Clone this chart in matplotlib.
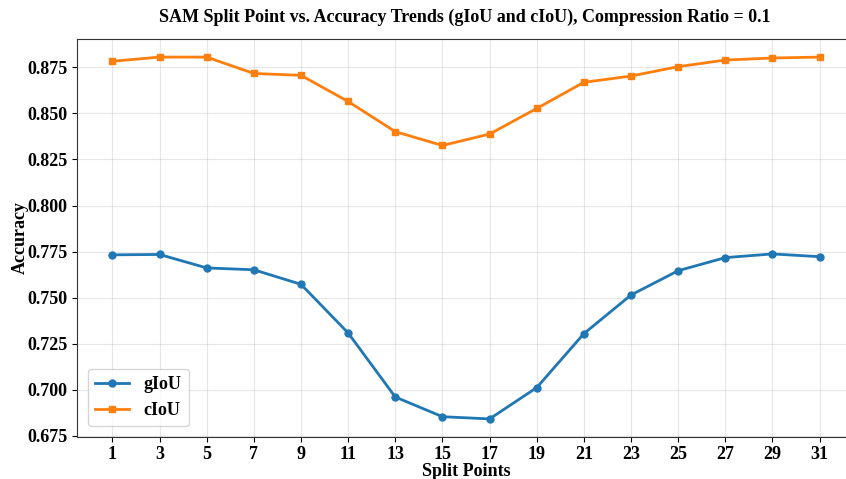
import matplotlib.pyplot as plt

plt.rcParams['font.family'] = ['Liberation Serif', 'DejaVu Serif']
plt.rcParams['font.weight'] = 'bold'

split_points = [1, 3, 5, 7, 9, 11, 13, 15, 17, 19, 21, 23, 25, 27, 29, 31]
giou = [0.7732, 0.7734, 0.7661, 0.7651, 0.7572, 0.7308, 0.6960, 0.6853,
        0.6841, 0.7011, 0.7304, 0.7514, 0.7646, 0.7717, 0.7737, 0.7722]
ciou = [0.8783, 0.8806, 0.8806, 0.8717, 0.8707, 0.8565, 0.8401, 0.8326,
        0.8388, 0.8527, 0.8669, 0.8703, 0.8754, 0.8790, 0.8801, 0.8806]

fig = plt.figure(figsize=(8.46, 4.79), dpi=100)
ax = fig.add_axes([77 / 846, 1 - 437 / 479, (855 - 77) / 846, (437 - 39) / 479])

ax.plot(split_points, giou, marker='o', markersize=5, linewidth=2, color='#1f77b4', label='gIoU')
ax.plot(split_points, ciou, marker='s', markersize=5, linewidth=2, color='#ff7f0e', label='cIoU')

ax.set_xlim(-0.5, 32.5)
ax.set_xticks(split_points)
ax.grid(True, alpha=0.3)
for s in ax.spines.values():
    s.set_color('#333333')

ax.tick_params(labelsize=13)
ax.tick_params(axis='x', pad=3)
for lbl in ax.get_xticklabels() + ax.get_yticklabels():
    lbl.set_fontweight('bold')
ax.set_xlabel('Split Points', fontsize=13, fontweight='bold')
ax.set_ylabel('Accuracy', fontsize=13, fontweight='bold')
# place axis labels where they sit in the reference
ax.xaxis.set_label_coords(0.5, -0.065)
ax.yaxis.set_label_coords(-0.062, 0.5)
ax.set_title('SAM Split Point vs. Accuracy Trends (gIoU and cIoU), Compression Ratio = 0.1',
             fontsize=13, fontweight='bold', pad=12, x=(465 - 77) / (855 - 77))
ax.legend(loc='lower left', fontsize=13, borderaxespad=0.6, handlelength=1.9)

fig.savefig('out.png', dpi=100)
